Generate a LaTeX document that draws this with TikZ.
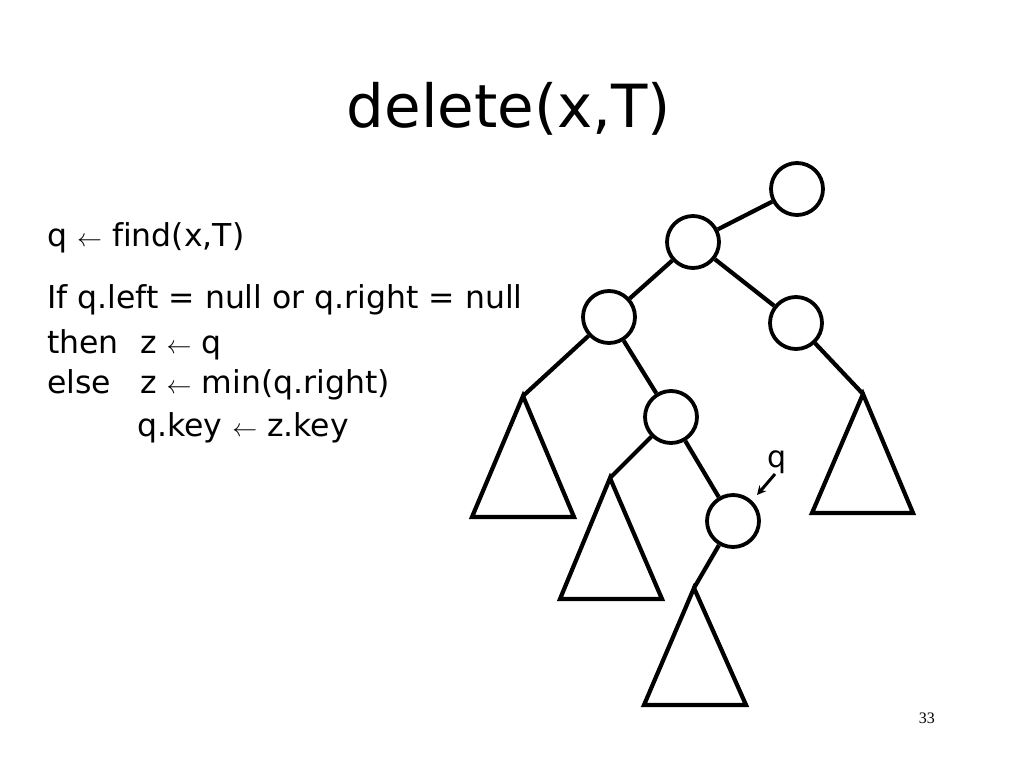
\documentclass[tikz,border=0pt]{standalone}
\usepackage{fontspec}
\setmainfont[Ligatures={NoCommon}]{DejaVu Sans}
\newfontfamily\pgnumfont{Liberation Serif}
\usetikzlibrary{arrows.meta}
\begin{document}
\begin{tikzpicture}[x=1pt,y=-1pt,
  tn/.style={circle,draw,line width=3.8pt,minimum size=52pt,inner sep=0pt},
  edge/.style={line width=4.2pt},
  tri/.style={line width=4.2pt,line join=miter},
  code/.style={anchor=base west,inner sep=0pt,font=\fontsize{31.5}{36}\selectfont},
  arr/.style={line width=3pt,-{Stealth[length=9pt,width=9pt]}}]
\useasboundingbox[fill=white] (0,0) rectangle (1024,768);
% title
\node[anchor=base,inner sep=0pt,font=\fontsize{59.5}{70}\selectfont] (title) at (509,127) {delete(x,T)};
% code
\node[code] (l1) at (47,246) {q $\leftarrow$ find(x,T)};
\node[code] (l2) at (47,308) {If q.left = null or q.right = null};
\node[code] (l3) at (47,353) {\makebox[93pt][l]{then}z $\leftarrow$ q};
\node[code] (l4) at (47,393) {\makebox[93pt][l]{else}z $\leftarrow$ min(q.right)};
\node[code] (l5) at (137,436) {q.key $\leftarrow$ z.key};
% tree nodes
\node[tn] (r) at (797,189) {};
\node[tn] (a) at (693,242) {};
\node[tn] (b) at (609,317) {};
\node[tn] (c) at (796,323) {};
\node[tn] (d) at (671,417) {};
\node[tn] (e) at (733,521) {};
% subtree apexes
\coordinate (tl) at (523,396);
\coordinate (tr) at (863,394);
\coordinate (tm) at (610,478);
\coordinate (te) at (694,588);
% edges
\draw[edge] (r) -- (a);
\draw[edge] (a) -- (b);
\draw[edge] (a) -- (c);
\draw[edge] (b) -- (tl);
\draw[edge] (b) -- (d);
\draw[edge] (c) -- (tr);
\draw[edge] (d) -- (tm);
\draw[edge] (d) -- (e);
\draw[edge] (e) -- (te);
% triangles
\draw[tri] (tl) -- (472,517) -- (574,517) -- cycle;
\draw[tri] (tr) -- (812,513) -- (913,513) -- cycle;
\draw[tri] (tm) -- (560,599) -- (662,599) -- cycle;
\draw[tri] (te) -- (644,705) -- (746,705) -- cycle;
% q pointer
\node[anchor=base,inner sep=0pt,font=\fontsize{30}{34}\selectfont] (ql) at (777,467) {q};
\coordinate (qs) at (775,474);
\coordinate (qt) at (757,495);
\draw[arr] (qs) -- (qt);
% page number
\node[anchor=base east,inner sep=0pt,font=\pgnumfont\fontsize{16}{18}\selectfont] (pg) at (935,723) {33};
\end{tikzpicture}
\end{document}
